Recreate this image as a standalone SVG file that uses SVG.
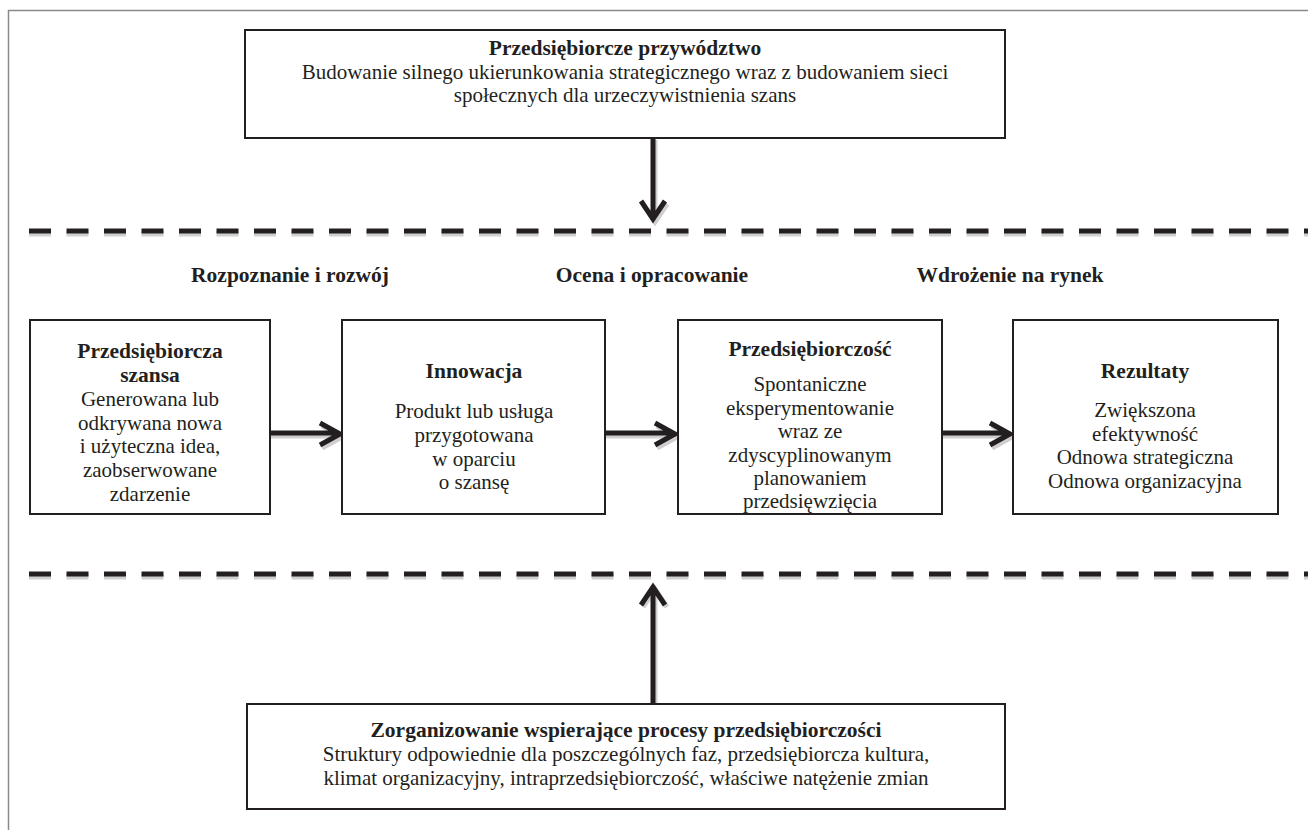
<svg xmlns="http://www.w3.org/2000/svg" width="1308" height="830" viewBox="0 0 1308 830">
<style>
text{font-family:"Liberation Serif","DejaVu Serif",serif;font-size:21px;fill:#231f20;text-anchor:middle}
.b{font-weight:bold;font-size:21.5px}
.box{fill:#fff;stroke:#231f20;stroke-width:2}
.ln{fill:none;stroke:#231f20;stroke-width:5}
.sh{fill:none;stroke:#cfcfcf;stroke-width:5}
.dash{fill:none;stroke:#231f20;stroke-width:5;stroke-dasharray:22 15.5}
.dsh{fill:none;stroke:#d0d0d0;stroke-width:5;stroke-dasharray:22 15.5}
</style>
<rect width="1308" height="830" fill="#fff"/>
<path d="M8.5 830 V10.5 H1308" fill="none" stroke="#8a8a8a" stroke-width="1.5"/>
<g id="connectors">
<path class="dsh" d="M29 234 H1308"/>
<path class="dash" d="M29 231 H1308"/>
<path class="dsh" d="M29 577 H1308"/>
<path class="dash" d="M29 574 H1308"/>
<path class="sh" d="M655 140 V222 M643 204 L655 222 L667 204"/>
<path class="ln" d="M653 138 V219 M641 201 L653 219 L665 201"/>
<path class="sh" d="M655 706 V590 M643 607 L655 589 L667 607"/>
<path class="ln" d="M653 704 V587 M641 605 L653 587 L665 605"/>
<path class="sh" d="M271 436 H341 M322 426 L342 437 L322 448"/>
<path class="ln" d="M271 433 H339 M320 423 L340 434 L320 445"/>
<path class="sh" d="M606 436 H676 M657 426 L677 437 L657 448"/>
<path class="ln" d="M606 433 H674 M655 423 L675 434 L655 445"/>
<path class="sh" d="M943 436 H1011 M992 426 L1012 437 L992 448"/>
<path class="ln" d="M943 433 H1009 M990 423 L1010 434 L990 445"/>
</g>
<g id="top">
<rect class="box" x="245" y="30" width="760" height="108"/>
<text class="b" x="625" y="55">Przedsiębiorcze przywództwo</text>
<text x="625" y="79">Budowanie silnego ukierunkowania strategicznego wraz z budowaniem sieci</text>
<text x="625" y="102">społecznych dla urzeczywistnienia szans</text>
</g>
<g id="phases">
<text class="b" x="290" y="282">Rozpoznanie i rozwój</text>
<text class="b" x="652" y="282">Ocena i opracowanie</text>
<text class="b" x="1010" y="282">Wdrożenie na rynek</text>
</g>
<g id="szansa">
<rect class="box" x="30" y="320" width="240" height="194"/>
<text class="b" x="150" y="358">Przedsiębiorcza</text>
<text class="b" x="150" y="382">szansa</text>
<text x="150" y="406">Generowana lub</text>
<text x="150" y="430">odkrywana nowa</text>
<text x="150" y="453">i użyteczna idea,</text>
<text x="150" y="477">zaobserwowane</text>
<text x="150" y="501">zdarzenie</text>
</g>
<g id="innowacja">
<rect class="box" x="342" y="320" width="263" height="194"/>
<text class="b" x="474" y="378">Innowacja</text>
<text x="474" y="418">Produkt lub usługa</text>
<text x="474" y="442">przygotowana</text>
<text x="474" y="466">w oparciu</text>
<text x="474" y="489">o szansę</text>
</g>
<g id="przedsiebiorczosc">
<rect class="box" x="678" y="320" width="264" height="194"/>
<text class="b" x="810" y="356">Przedsiębiorczość</text>
<text x="810" y="391">Spontaniczne</text>
<text x="810" y="415">eksperymentowanie</text>
<text x="810" y="438">wraz ze</text>
<text x="810" y="462">zdyscyplinowanym</text>
<text x="810" y="485">planowaniem</text>
<text x="810" y="508">przedsięwzięcia</text>
</g>
<g id="rezultaty">
<rect class="box" x="1013" y="320" width="265" height="194"/>
<text class="b" x="1145" y="378">Rezultaty</text>
<text x="1145" y="417">Zwiększona</text>
<text x="1145" y="441">efektywność</text>
<text x="1145" y="464">Odnowa strategiczna</text>
<text x="1145" y="488">Odnowa organizacyjna</text>
</g>
<g id="bottom">
<rect class="box" x="247" y="704" width="758" height="105"/>
<text class="b" x="626" y="737">Zorganizowanie wspierające procesy przedsiębiorczości</text>
<text x="626" y="761">Struktury odpowiednie dla poszczególnych faz, przedsiębiorcza kultura,</text>
<text x="626" y="785">klimat organizacyjny, intraprzedsiębiorczość, właściwe natężenie zmian</text>
</g>
</svg>
